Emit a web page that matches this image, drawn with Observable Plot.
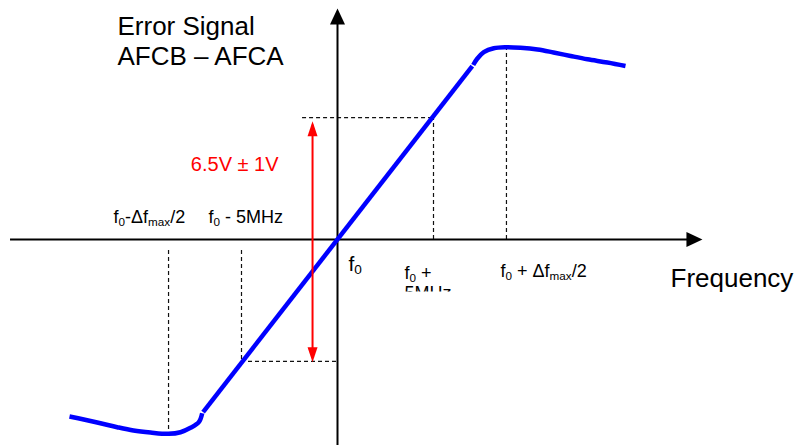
<!DOCTYPE html>
<html><head><meta charset="utf-8">
<script src="https://cdn.jsdelivr.net/npm/d3@7"></script>
<script src="https://cdn.jsdelivr.net/npm/@observablehq/plot@0.6"></script>
<style>html,body{margin:0;padding:0;background:#fff}svg{display:block}</style>
</head><body><div id="chart"></div>
<script>
// ---- Data: frequency offset from f0 (MHz), error signal (V) ----
const tickFreqs = [-8.8, -5, 0, 5, 8.8];
const tickLabels = ["f_0-Δf_{max}/2", "f_0 - 5MHz", "f_0", "f_0 +\n5MHz", "f_0 + Δf_{max}/2"];
const linearFreq = [-7.0, 7.02];
const linearSignal = [-4.6, 4.62];
const upperFreq = [7.068, 7.276, 7.62, 8.14, 8.75, 9.53, 10.42, 11.25, 12.14, 13.02, 14.06, 15.0];
const upperSignal = [4.653, 4.819, 4.995, 5.101, 5.128, 5.112, 5.067, 4.987, 4.893, 4.805, 4.72, 4.627];
const lowerFreq = [-13.958, -13.214, -12.344, -11.474, -10.625, -9.74, -8.802, -8.177, -7.656, -7.224, -7.047];
const lowerSignal = [-4.72, -4.8, -4.899, -5.005, -5.093, -5.147, -5.181, -5.139, -5.021, -4.872, -4.632];
const windowHalf = 3.25;            // half of the 6.5 V window
const windowLabel = "6.5V ± 1V";
const arrowFreq = -1.3;
const arrowSpan = [-3.27, 3.15];
const dashGap = 0.29;
const xAxisExtent = [-17.03, 18.8];
const yAxisExtent = [-5.6, 6.05];
const titleText = "Error Signal\nAFCB – AFCA";
const xAxisTitle = "Frequency";

// ---- tables built from the arrays ----
const linear = linearFreq.map((f, i) => ({f, v: linearSignal[i]}));
const upper = upperFreq.map((f, i) => ({f, v: upperSignal[i]}));
const lower = lowerFreq.map((f, i) => ({f, v: lowerSignal[i]}));
const lowerMin = d3.min(lowerSignal), upperMax = d3.max(upperSignal);
const dashedV = [
  {x: tickFreqs[0], y1: -dashGap, y2: lowerMin},
  {x: tickFreqs[1], y1: -dashGap, y2: -windowHalf},
  {x: tickFreqs[3], y1: 0, y2: windowHalf},
  {x: tickFreqs[4], y1: 0, y2: upperMax}
];
const dashedH = [
  {y: windowHalf, x1: arrowFreq - 0.52, x2: tickFreqs[3]},
  {y: -windowHalf, x1: tickFreqs[1], x2: 0}
];

// ---- arrowhead symbols ----
const headRight = {draw(c){c.moveTo(4,0);c.lineTo(-12,-7.5);c.lineTo(-12,7.5);c.closePath();}};
const headUp = {draw(c){c.moveTo(0,-4);c.lineTo(-7.5,12);c.lineTo(7.5,12);c.closePath();}};
const redUp = {draw(c){c.moveTo(0,0);c.lineTo(-5,15);c.lineTo(5,15);c.closePath();}};
const redDown = {draw(c){c.moveTo(0,0);c.lineTo(-5,-15);c.lineTo(5,-15);c.closePath();}};

// layout of tick labels: [dx px, dy px, font size, lineHeight]
const labelLayout = [[-55, -28.8, 18, 1], [-33, -28.8, 18, 1], [11, 16.1, 21, 1], [-29, 25.2, 18, 1.1], [-6, 25.2, 18, 1]];

const blue = "#0000ff";
const font = "Liberation Sans, Arial, Helvetica, sans-serif";

const plot = Plot.plot({
  width: 795, height: 445,
  margin: 0,
  x: {domain: [-17.552, 23.854], axis: null},
  y: {domain: [-5.493, 6.373], axis: null},
  style: {fontFamily: font, background: "#fff", overflow: "hidden"},
  marks: [
    // dashed guides
    Plot.ruleX(dashedV, {x: "x", y1: "y1", y2: "y2", stroke: "#111", strokeWidth: 1.2, strokeDasharray: "4,3"}),
    Plot.ruleY(dashedH, {y: "y", x1: "x1", x2: "x2", stroke: "#111", strokeWidth: 1.2, strokeDasharray: "4,3"}),
    // axes
    Plot.ruleY([0], {x1: xAxisExtent[0], x2: xAxisExtent[1], stroke: "#000", strokeWidth: 2}),
    Plot.ruleX([0], {y1: yAxisExtent[0], y2: yAxisExtent[1], stroke: "#000", strokeWidth: 2}),
    Plot.dot([0], {x: xAxisExtent[1], y: 0, symbol: headRight, fill: "#000", stroke: null}),
    Plot.dot([0], {x: 0, y: yAxisExtent[1], symbol: headUp, fill: "#000", stroke: null}),
    // error signal curve
    Plot.line(linear, {x: "f", y: "v", stroke: blue, strokeWidth: 4.5, strokeLinecap: "butt"}),
    Plot.line(upper, {x: "f", y: "v", stroke: blue, strokeWidth: 4.5, strokeLinecap: "butt", curve: "catmull-rom"}),
    Plot.line(lower, {x: "f", y: "v", stroke: blue, strokeWidth: 4.5, strokeLinecap: "butt", curve: "catmull-rom"}),
    // red window arrow
    Plot.ruleX([arrowFreq], {y1: arrowSpan[0] + 0.1, y2: arrowSpan[1] - 0.1, stroke: "#ff0000", strokeWidth: 2}),
    Plot.dot([0], {x: arrowFreq, y: arrowSpan[1], symbol: redUp, fill: "#ff0000", stroke: null}),
    Plot.dot([0], {x: arrowFreq, y: arrowSpan[0], symbol: redDown, fill: "#ff0000", stroke: null}),
    Plot.text([windowLabel], {x: arrowFreq, y: windowHalf, text: d => d, dx: -34, dy: 47, textAnchor: "end", lineAnchor: "middle", fontSize: 20, fill: "#ff0000"}),
    // tick labels
    ...tickFreqs.map((f, i) => Plot.text([tickLabels[i]], {
      x: f, y: 0, text: d => d, dx: labelLayout[i][0], dy: labelLayout[i][1],
      fontSize: labelLayout[i][2], lineHeight: labelLayout[i][3],
      textAnchor: "start", lineAnchor: "top", fill: "#000"
    })),
    // titles
    Plot.text([titleText], {frameAnchor: "top-left", text: d => d, dx: 117, dy: 13.5, textAnchor: "start", lineAnchor: "top", lineHeight: 1.154, fontSize: 26, fill: "#000"}),
    Plot.text([xAxisTitle], {frameAnchor: "top-left", text: d => d, dx: 670, dy: 268.5, textAnchor: "start", lineAnchor: "top", fontSize: 26, fill: "#000"})
  ]
});

const NS = "http://www.w3.org/2000/svg";
// tick label text elements (they are the ones carrying the "_" subscript markup)
const labelTexts = Array.from(plot.querySelectorAll("text")).filter(t => (t.textContent || "").includes("_"));
// the multi-line one ("f0 +" / "5MHz") is found before any tspans are added
const clippedText = labelTexts.find(t => Array.from(t.children).filter(c => c.tagName.toLowerCase() === "tspan").length >= 2);

// ---- subscripts: "_0" or "_{max}" ----
function subscriptify(node) {
  const raw = node.textContent;
  if (!raw.includes("_")) return;
  node.textContent = "";
  const re = /_(\{[^}]*\}|.)/g;
  let last = 0, m, prevSub = false;
  const shift = 3;
  const add = (str, sub) => {
    if (!str) return;
    const t = document.createElementNS(NS, "tspan");
    t.textContent = str;
    if (sub) { t.setAttribute("font-size", "65%"); t.setAttribute("dy", shift); }
    else if (prevSub) { t.setAttribute("dy", -shift); }
    node.appendChild(t);
    prevSub = sub;
  };
  while ((m = re.exec(raw))) {
    add(raw.slice(last, m.index), false);
    add(m[1].replace(/^\{|\}$/g, ""), true);
    last = re.lastIndex;
  }
  add(raw.slice(last), false);
}
labelTexts.forEach(t => {
  const lines = Array.from(t.children).filter(c => c.tagName.toLowerCase() === "tspan");
  (lines.length ? lines : [t]).forEach(subscriptify);
});

// ---- clip the overflowing second line of the "f0 + 5MHz" label ----
const clipY = plot.scale("y").apply(0) + 52.5;
const defs = document.createElementNS(NS, "defs");
const cp = document.createElementNS(NS, "clipPath");
cp.setAttribute("id", "lblclip");
const r = document.createElementNS(NS, "rect");
r.setAttribute("x", 0); r.setAttribute("y", 0); r.setAttribute("width", 795); r.setAttribute("height", clipY);
cp.appendChild(r); defs.appendChild(cp); plot.appendChild(defs);
if (clippedText) {
  const markG = clippedText.parentNode;
  const wrap = document.createElementNS(NS, "g");
  wrap.setAttribute("clip-path", "url(#lblclip)");
  markG.parentNode.insertBefore(wrap, markG);
  wrap.appendChild(markG);
}

document.getElementById("chart").appendChild(plot);
</script>
</body></html>
